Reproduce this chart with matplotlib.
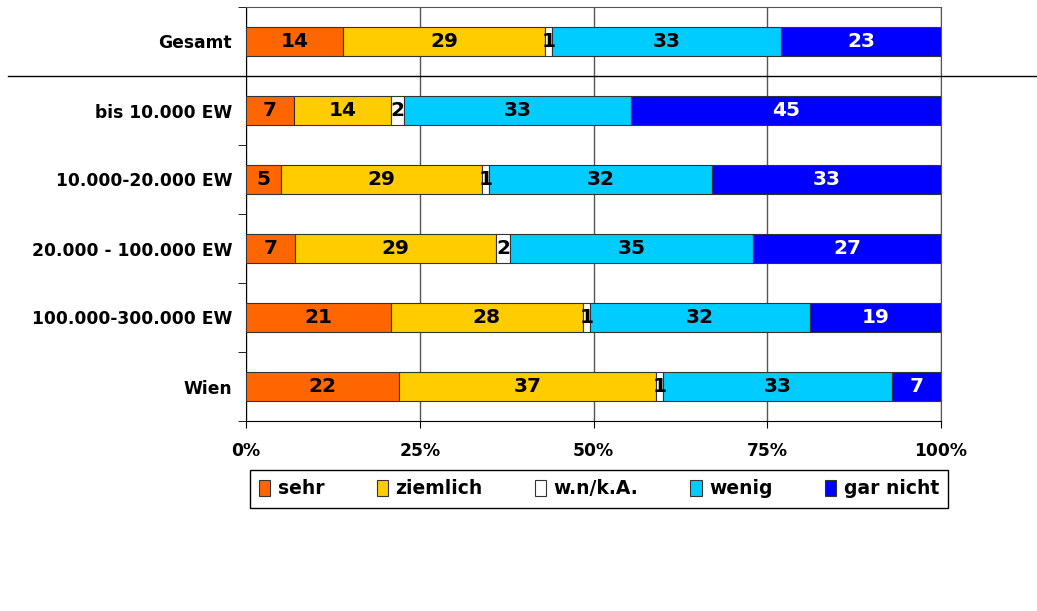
import numpy as np
import matplotlib.pyplot as plt
import matplotlib.transforms as mtrans

plt.rcParams['font.family'] = ['DejaVu Sans']

categories = ["Gesamt", "bis 10.000 EW", "10.000-20.000 EW", "20.000 - 100.000 EW",
              "100.000-300.000 EW", "Wien"]
series = ["sehr", "ziemlich", "w.n/k.A.", "wenig", "gar nicht"]
sehr = [14, 7, 5, 7, 21, 22]
ziemlich = [29, 14, 29, 29, 28, 37]
wnka = [1, 2, 1, 2, 1, 1]
wenig = [33, 33, 32, 35, 32, 33]
gar_nicht = [23, 45, 33, 27, 19, 7]
x_ticks = ["0%", "25%", "50%", "75%", "100%"]

colors = ["#FF6600", "#FFCC00", "#FFFFFF", "#00CCFF", "#0000FF"]
text_colors = ["black", "black", "black", "black", "white"]

data = np.array([sehr, ziemlich, wnka, wenig, gar_nicht], dtype=float)
shares = data / data.sum(axis=0) * 100

fig = plt.figure(figsize=(10.37, 6.11), dpi=100)
ax = fig.add_axes([246/1037, 1 - 421/611, 695/1037, 414/611])

y = np.arange(len(categories))
left = np.zeros(len(categories))
for i, name in enumerate(series):
    ax.barh(y, shares[i], left=left, height=0.42, color=colors[i],
            edgecolor="#333333", linewidth=0.8, label=name, zorder=3)
    for j in range(len(categories)):
        ax.text(left[j] + shares[i][j] / 2, y[j], str(int(data[i][j])),
                ha="center", va="center", fontsize=14.5, fontweight="bold",
                color=text_colors[i], zorder=4)
    left += shares[i]

ax.set_xlim(0, 100)
ax.set_ylim(len(categories) - 0.5, -0.5)
ax.set_xticks([0, 25, 50, 75, 100])
ax.set_xticklabels(x_ticks, fontsize=12.3, fontweight="bold")
ax.tick_params(axis="x", length=5, pad=10, color="black")
ax.set_yticks(y)
ax.set_yticklabels(categories, fontsize=12.3, fontweight="bold")
ax.tick_params(axis="y", which="major", length=0, pad=10)
ax.set_yticks(np.arange(-0.5, len(categories)), minor=True)
ax.tick_params(axis="y", which="minor", length=6, color="black")

ax.grid(axis="x", color="#555555", linewidth=1, zorder=0)
ax.spines["top"].set_color("#555555")
ax.spines["right"].set_color("#555555")

# trennlinie unter Gesamt
tr = mtrans.blended_transform_factory(fig.transFigure, ax.transData)
ax.plot([0.008, 1.0], [0.5, 0.5], color="black", linewidth=1,
        transform=tr, clip_on=False, zorder=5)

leg = fig.legend(loc="center", bbox_to_anchor=(0.5776, 1 - 489/611), ncol=5,
                 prop={"weight": "bold", "size": 13.5},
                 handlelength=0.6, handleheight=1.0, handletextpad=0.4,
                 columnspacing=2.78, fancybox=False, edgecolor="black",
                 borderpad=0.5, framealpha=1)
leg.get_frame().set_linewidth(1)
for h in leg.legend_handles:
    h.set_edgecolor("#333333")

fig.savefig("out.png", dpi=100)
